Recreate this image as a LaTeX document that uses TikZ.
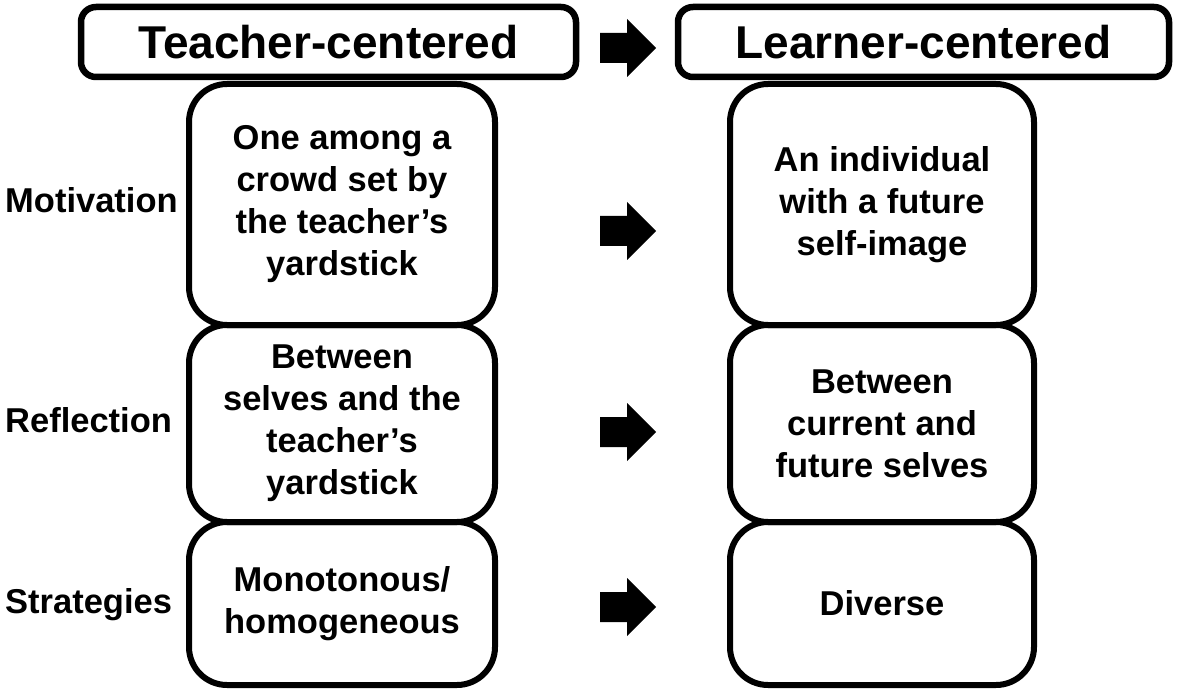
\documentclass[tikz,border=0pt]{standalone}
\usepackage{fontspec}
\setmainfont{Liberation Sans}
\newcommand\bodyfont{\fontsize{34.5}{42}\selectfont\bfseries}
\newcommand\headfont{\fontsize{46}{50}\selectfont\bfseries}
\tikzset{
  headbox/.style={draw, line width=6.5pt, rounded corners=15pt, inner sep=0pt, font=\headfont},
  sidebox/.style={draw, line width=6pt, rounded corners=38pt, inner sep=0pt, align=center, font=\bodyfont},
  rowlabel/.style={anchor=base west, inner sep=0pt, font=\bodyfont},
}
\begin{document}
\begin{tikzpicture}[x=1pt,y=-1pt]
  \useasboundingbox (0,0) rectangle (1181,695);
  \node[headbox, minimum width=495, minimum height=70] (teacher) at (328.5,42) {Teacher-centered};
  \node[headbox, minimum width=491, minimum height=70] (learner) at (923.5,42) {Learner-centered};
  \node[sidebox, minimum width=306, minimum height=241] (tmot) at (342,204.5)
    {One among a\\crowd set by\\the teacher’s\\yardstick};
  \node[sidebox, minimum width=306, minimum height=197] (tref) at (342,423.5)
    {Between\\selves and the\\teacher’s\\yardstick};
  \node[sidebox, minimum width=306, minimum height=163] (tstr) at (342,603.5)
    {Monotonous/\\homogeneous};
  \node[sidebox, minimum width=304, minimum height=241] (lmot) at (882,204.5)
    {An individual\\with a future\\self-image};
  \node[sidebox, minimum width=304, minimum height=197] (lref) at (882,423.5)
    {Between\\current and\\future selves};
  \node[sidebox, minimum width=304, minimum height=163] (lstr) at (882,603.5) {Diverse};
  \node[rowlabel] (mot) at (5,213) {Motivation};
  \node[rowlabel] (ref) at (5,432) {Reflection};
  \node[rowlabel] (str) at (5,613) {Strategies};
  \foreach \y in {48,231,432,607} {
    \fill (600,\y-15) -- (627,\y-15) -- (627,\y-29) -- (656,\y)
      -- (627,\y+29) -- (627,\y+15) -- (600,\y+15) -- cycle;
  }
\end{tikzpicture}
\end{document}
